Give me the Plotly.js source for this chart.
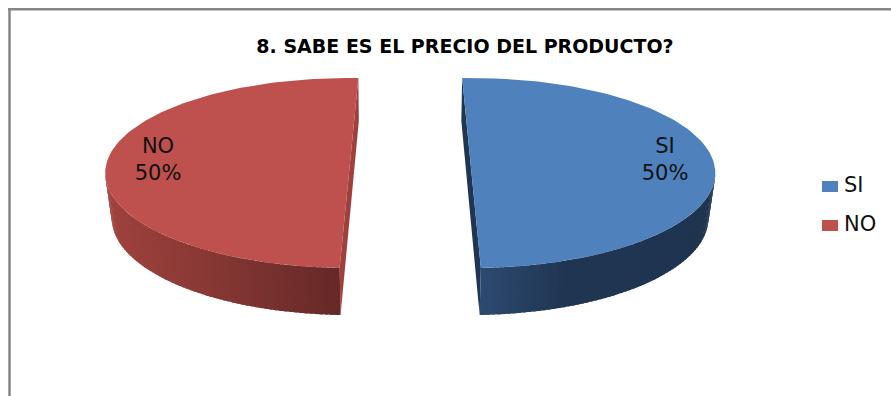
<!DOCTYPE html>
<html>
<head>
<meta charset="utf-8">
<script src="https://cdn.plot.ly/plotly-3.0.1.min.js"></script>
<style>html,body{margin:0;padding:0;background:#fff}#chart{width:891px;height:396px}</style>
</head>
<body>
<div id="chart"></div>
<script>
// Survey answers
const categories = ["SI", "NO"];
const answerValues = [50, 50];
const chartTitle = "8. SABE ES EL PRECIO DEL PRODUCTO?";

// Slice colours: top face, cut face, wall shade stops from the cut edge to the outer side
const topColors = ["#4F81BD", "#BE504D"];
const cutColors = ["#1F3552", "#A0403D"];
const wallStops = [
  [[46, 74, 112], [31, 53, 82], [31, 52, 79]],
  [[101, 41, 39], [136, 56, 52], [160, 66, 62]]
];
const wallKnee = [0.35, 0.55];

// Pseudo-3D projection of each exploded slice, in pixels of the plot area
const centers = [471.5, 349];
const baseShift = [-1, 0.7];
const startBearing = [-2.2, 182.2];
const topFace = {cy: 173, a: 243.8, b: 95};
const baseFace = {cy: 218, a: 238, b: 97};
const labelOffset = [193.5, -191];
const labelY = 161;
const keyRows = [186.5, 225.5];

const total = answerValues.reduce((s, v) => s + v, 0);
const rad = d => d * Math.PI / 180;
const point = (i, f, bearing) => [
  centers[i] + (f === baseFace ? baseShift[i] : 0) + f.a * Math.sin(rad(bearing)),
  f.cy - f.b * Math.cos(rad(bearing))
];
const mix = (p, q, t) => p.map((c, k) => Math.round(c + (q[k] - c) * t));
const css = c => `rgb(${c[0]},${c[1]},${c[2]})`;
const polygon = (pts, color) => ({
  x: pts.map(p => p[0]), y: pts.map(p => p[1]),
  mode: "lines", fill: "toself", fillcolor: color,
  line: {color: color, width: 0}, hoverinfo: "skip", showlegend: false
});

const traces = [];
categories.forEach((name, i) => {
  const sweep = 360 * answerValues[i] / total;
  const from = startBearing[i], to = from + sweep;

  // Cut face seen through the gap between the two slices
  const aTop = point(i, topFace, from), bTop = point(i, topFace, to);
  const aBase = point(i, baseFace, from), bBase = point(i, baseFace, to);
  const cutTop = i === 0 ? aTop : bTop, cutTopBase = i === 0 ? aBase : bBase;
  const cutBot = i === 0 ? bTop : aTop, cutBotBase = i === 0 ? bBase : aBase;
  traces.push(polygon([cutTop, cutTopBase, cutBotBase, cutBot], cutColors[i]));

  // Outer wall, painted as overlapping shaded bands from the outer side to the cut edge
  const outer = i === 0 ? 90 : 270;
  const edge = i === 0 ? to : from;
  const bands = 70;
  for (let k = 0; k < bands; k++) {
    const b0 = outer + (edge - outer) * k / bands;
    const b1 = outer + (edge - outer) * Math.min(1, (k + 1.6) / bands);
    const off = Math.abs(Math.sin(rad((b0 + b1) / 2 - startBearing[i])));
    const stops = wallStops[i], knee = wallKnee[i];
    const shade = off < knee ? mix(stops[0], stops[1], off / knee)
                             : mix(stops[1], stops[2], (off - knee) / (1 - knee));
    const pts = [];
    for (let s = 0; s <= 3; s++) pts.push(point(i, topFace, b0 + (b1 - b0) * s / 3));
    for (let s = 3; s >= 0; s--) pts.push(point(i, baseFace, b0 + (b1 - b0) * s / 3));
    traces.push(polygon(pts, css(shade)));
  }

  // Top face
  const rim = [];
  for (let k = 0; k <= 120; k++) rim.push(point(i, topFace, from + sweep * k / 120));
  traces.push(polygon(rim, topColors[i]));

  // Percentage label on the slice
  traces.push({
    x: [centers[i] + labelOffset[i]], y: [labelY],
    mode: "text", text: [`${name}<br>${Math.round(100 * answerValues[i] / total)}%`],
    textposition: "middle center",
    textfont: {family: "DejaVu Sans", size: 21, color: "#111"},
    hoverinfo: "skip", showlegend: false
  });

  // Key entry
  const ky = keyRows[i];
  traces.push(polygon([[822, ky - 5.5], [838, ky - 5.5], [838, ky + 5.5], [822, ky + 5.5]], topColors[i]));
  traces.push({
    x: [844], y: [ky],
    mode: "text", text: [name], textposition: "middle right",
    textfont: {family: "DejaVu Sans", size: 21, color: "#111"},
    hoverinfo: "skip", showlegend: false
  });
});

const layout = {
  width: 891, height: 396,
  margin: {l: 0, r: 0, t: 0, b: 0},
  paper_bgcolor: "#fff", plot_bgcolor: "#fff",
  showlegend: false,
  title: {
    text: "<b>" + chartTitle + "</b>",
    x: 465 / 891, xanchor: "center", y: 1 - 46 / 396, yanchor: "middle",
    font: {family: "DejaVu Sans", size: 19, color: "#000"}
  },
  xaxis: {range: [0, 891], visible: false, fixedrange: true},
  yaxis: {range: [396, 0], visible: false, fixedrange: true},
  shapes: [
    {type: "line", xref: "x", yref: "y", x0: 9.5, x1: 9.5, y0: 8, y1: 396, line: {color: "#868686", width: 2.5}},
    {type: "line", xref: "x", yref: "y", x0: 8, x1: 891, y0: 9.3, y1: 9.3, line: {color: "#868686", width: 2.5}}
  ]
};

Plotly.newPlot("chart", traces, layout, {displayModeBar: false, staticPlot: true});
</script>
</body>
</html>
